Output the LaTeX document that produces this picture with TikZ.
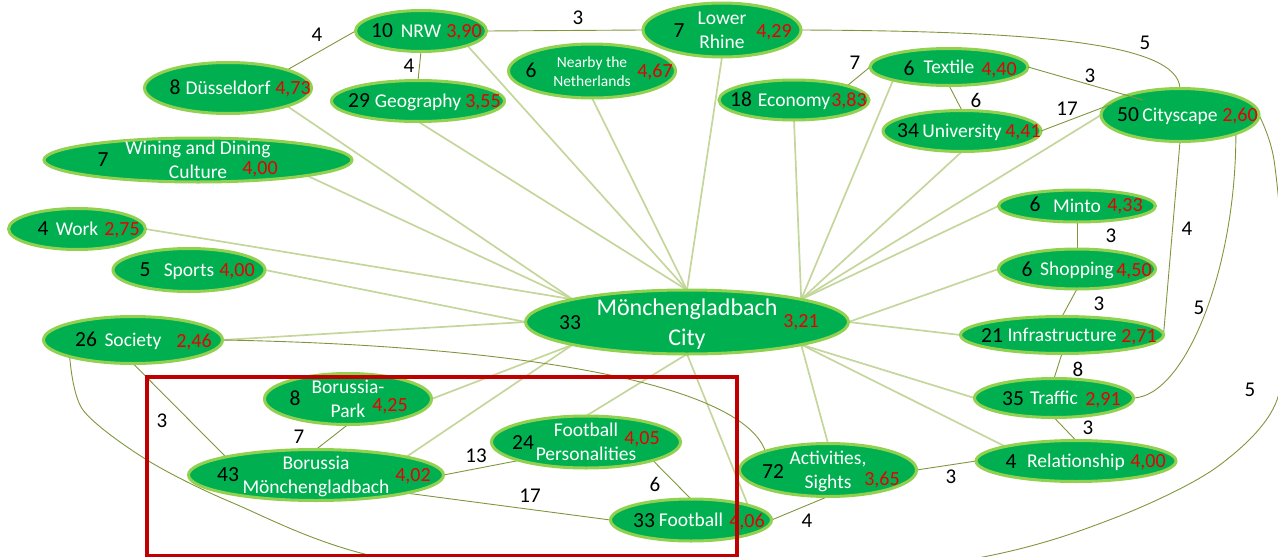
\documentclass[tikz,border=0pt]{standalone}
\usepackage{fontspec}
\setmainfont{Carlito}
\usetikzlibrary{shapes.geometric,calc}
\pgfdeclarelayer{bg}
\pgfsetlayers{bg,main}
\definecolor{fillg}{RGB}{0,176,80}
\definecolor{bord}{RGB}{146,208,80}
\definecolor{lightln}{RGB}{196,214,155}
\definecolor{darkln}{RGB}{128,150,62}
\definecolor{valred}{RGB}{232,0,0}
\definecolor{boxred}{RGB}{192,0,0}
\newcommand\nrm{\fontsize{19.5}{23.5}\selectfont}
\newcommand\numfont{\fontsize{21.5}{25}\selectfont}
\newcommand\valfont{\fontsize{20}{24}\selectfont}
\newcommand\twol[2]{\begin{tabular}{@{}c@{}}#1\\#2\end{tabular}}
\newcommand\onel[1]{\begin{tabular}{@{}c@{}}#1\end{tabular}}
\tikzset{
  bubble/.style={ellipse, draw=bord, fill=fillg, line width=3pt, inner sep=0pt, outer sep=0pt},
  tname/.style={text=white, font=\nrm, inner sep=0pt, yshift=-2pt},
  tnum/.style={text=black, font=\numfont, inner sep=0pt, text height=13.5pt, text depth=0pt},
  tval/.style={text=valred, font=\valfont, inner sep=0pt, text height=12.6pt, text depth=0pt},
  elbl/.style={text=black, font=\fontsize{21}{25}\selectfont, inner sep=0pt, text height=13.2pt, text depth=0pt},
  cedge/.style={draw=lightln, line width=1.7pt},
  redge/.style={draw=darkln, line width=0.9pt},
  frame/.style={draw=boxred, line width=4pt, inner sep=0pt, outer sep=0pt}
}
\newcommand\topic[9]{%
  \node[bubble, minimum width=#3pt, minimum height=#4pt] (#1) at (#2) {};
  \node[tname] (#1-name) at (#2) {#5};
  \node[tnum] (#1-num) at (#7) {#6};
  \node[tval] (#1-val) at (#9) {#8};
}
\begin{document}
\begin{tikzpicture}[x=1pt,y=-1pt]
\useasboundingbox (0,0) rectangle (1278,557);
\clip (0,0) rectangle (1278,557);

\topic{dus}{228,88}{167}{51}{\onel{Düsseldorf}}{8}{175,88}{4,73}{293,88}
\topic{nrw}{421,31}{131}{41}{\onel{NRW}}{10}{382,31}{3,90}{464,31}
\topic{geo}{418,101}{173}{41}{\onel{Geography}}{29}{359,101}{3,55}{483,101}
\topic{nby}{592,71}{167}{54}{{\fontsize{15.5}{19}\selectfont\twol{Nearby the}{Netherlands}}}{6}{531,71}{4,67}{655,71}
\topic{lr}{722,30}{158}{54}{\twol{Lower}{Rhine}}{7}{679,31}{4,29}{774,31}
\topic{eco}{794,100}{150}{40}{\onel{Economy}}{18}{741,100}{3,83}{849,100}
\topic{tex}{949,67}{158}{37}{\onel{Textile}}{6}{909,69}{4,40}{999,69}
\topic{uni}{962,131}{158}{41}{\onel{University}}{34}{908,131}{4,41}{1023,131}
\topic{cs}{1180,115}{158}{53}{\onel{Cityscape}}{50}{1128,115}{2,60}{1240,115}
\topic{win}{198,160}{308}{44}{\twol{Wining and Dining}{Culture}}{7}{103,160}{4,00}{260,168}
\topic{work}{77,229}{137}{41}{\onel{Work}}{4}{43,229}{2,75}{122,229}
\topic{sports}{189,270}{152}{43}{\onel{Sports}}{5}{145,270}{4,00}{237,270}
\topic{soc}{133,340}{179}{47}{\onel{Society}}{26}{86,340}{2,46}{194,341}
\topic{mg}{687,322}{323}{64}{{\fontsize{24}{30}\selectfont\twol{Mönchengladbach}{City}}}{33}{570,323}{3,21}{801,321}
\topic{minto}{1077,206}{157}{32}{\onel{Minto}}{6}{1035,205}{4,33}{1125,205}
\topic{shop}{1077,269}{157}{40}{\onel{Shopping}}{6}{1027,270}{4,50}{1134,270}
\topic{infra}{1062,335}{203}{37}{\onel{Infrastructure}}{21}{992,336}{2,71}{1139,336}
\topic{traf}{1054,398}{159}{39}{\onel{Traffic}}{35}{1013,399}{2,91}{1103,399}
\topic{rel}{1076,461}{200}{41}{\onel{Relationship}}{4}{1011,462}{4,00}{1148,461}
\topic{act}{828,470}{177}{53}{\twol{Activities,}{Sights}}{72}{773,472}{3,65}{882,479}
\topic{bp}{348,399}{167}{51}{\twol{Borussia-}{Park}}{8}{295,399}{4,25}{390,405}
\topic{bmg}{316,475}{255}{51}{\twol{Borussia}{Mönchengladbach}}{43}{228,475}{4,02}{413,475}
\topic{fp}{586,442}{189}{52}{\twol{Football}{Personalities}}{24}{523,443}{4,05}{642,438}
\topic{foot}{691,520}{161}{42}{\onel{Football}}{33}{644,521}{4,06}{747,521}

\begin{pgfonlayer}{bg}
  \foreach \a/\b in {dus.south east/mg.north west, win.south east/mg.north west,
      work.east/mg.north west, sports.east/mg.west, soc.east/mg.west,
      geo.south/mg.north, nrw.south east/mg.north, nby.south/mg.north, lr.south/mg.north,
      eco.south/mg.north east, tex.south west/mg.north east, uni.south/mg.north east,
      cs.west/mg.north east, minto.west/mg.north east, shop.west/mg.east, infra.west/mg.east,
      traf.west/mg.south east, rel.north west/mg.south east, act.north/mg.south east,
      foot.north east/mg.south, fp.north/mg.south, bmg.north east/mg.south west, bp.east/mg.south west}
    \draw[cedge] (\a) -- (\b);
  \draw[redge] (dus.north east) -- (nrw.west);
  \draw[redge] (nrw.south) -- (geo.north);
  \draw[redge] (nrw.east) -- (lr.west);
  \draw[redge] (lr.east) .. controls (1030,31) and (1178,42) .. (cs.north);
  \draw[redge] (eco.north east) -- (tex.west);
  \draw[redge] (tex.south) -- (uni.north);
  \draw[redge] (cs.south) -- (infra.east);
  \draw[redge] (cs.south east) .. controls (1236,270) and (1185,396) .. (traf.east);
  \draw[redge] plot[smooth] coordinates {(cs.east) (1274,160) (1284,280) (1277,400) (1217,467) (1117,517) (983,557) (680,602) (377,557) (233,503) (147,460) (83,410) (soc.south west)};
  \draw[redge] (minto.south) -- (shop.north);
  \draw[redge] (shop.south) -- (infra.north);
  \draw[redge] (infra.south) -- (traf.north);
  \draw[redge] (traf.south) -- (rel.north);
  \draw[redge] (act.east) -- (rel.west);
  \draw[redge] (foot.east) -- (act.south);
  \draw[redge] (fp.south east) -- (foot.north);
  \draw[redge] (bmg.south east) -- (foot.west);
  \draw[redge] (bmg.east) -- (fp.south west);
  \draw[redge] (bp.south) -- (bmg.north);
  \draw[redge] (soc.south) -- (bmg.north west);
  \draw[redge] (soc.east) .. controls (500,345) and (740,380) .. (act.north west);
\end{pgfonlayer}

\draw[redge] (tex.east) -- ($(cs.center)+(-37,-15)$);
\draw[redge] (uni.east) -- ($(cs.center)+(-68,-11)$);

\node[elbl] (l1) at (317,35) {4};
\node[elbl] (l2) at (409,66) {4};
\node[elbl] (l3) at (578,18) {3};
\node[elbl] (l4) at (1145,43) {5};
\node[elbl] (l5) at (855,63) {7};
\node[elbl] (l6) at (976,101) {6};
\node[elbl] (l7) at (1090,76) {3};
\node[elbl] (l8) at (1067,109) {17};
\node[elbl] (l9) at (1187,229) {4};
\node[elbl] (l10) at (1199,308) {5};
\node[elbl] (l11) at (1250,390) {5};
\node[elbl] (l12) at (1111,236) {3};
\node[elbl] (l13) at (1099,304) {3};
\node[elbl] (l14) at (1078,370) {8};
\node[elbl] (l15) at (1088,428) {3};
\node[elbl] (l16) at (951,477) {3};
\node[elbl] (l17) at (807,521) {4};
\node[elbl] (l18) at (655,485) {6};
\node[elbl] (l19) at (530,496) {17};
\node[elbl] (l20) at (476,456) {13};
\node[elbl] (l21) at (299,437) {7};
\node[elbl] (l22) at (162,421) {3};

\node[frame, minimum width=590pt, minimum height=179pt] (box) at (442,466.5) {};
\end{tikzpicture}
\end{document}
